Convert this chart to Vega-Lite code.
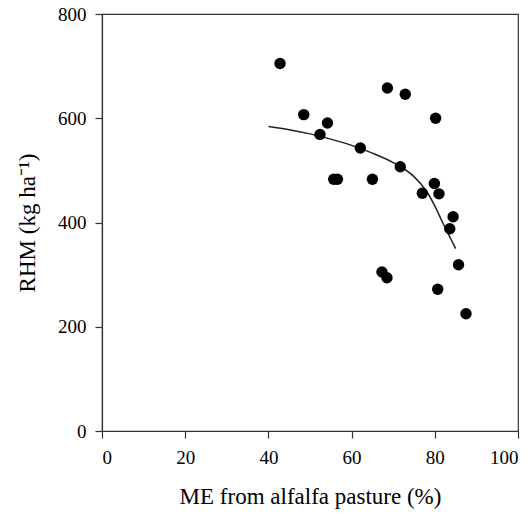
{
  "$schema": "https://vega.github.io/schema/vega-lite/v6.json",
  "autosize": "none",
  "width": 416,
  "height": 417,
  "padding": {"left": 102, "top": 14, "right": 14, "bottom": 83},
  "background": "white",
  "config": {
    "view": {"stroke": "#333", "strokeWidth": 1.2},
    "font": "Liberation Serif",
    "axis": {
      "grid": false,
      "domainColor": "#333",
      "domainWidth": 1.2,
      "tickColor": "#333",
      "tickWidth": 1.2,
      "tickSize": 7,
      "labelFont": "Liberation Serif",
      "labelFontSize": 19,
      "labelColor": "black",
      "titleFont": "Liberation Serif",
      "titleFontSize": 23,
      "titleFontWeight": "normal",
      "titleColor": "black"
    }
  },
  "datasets": {
    "pts": [
      {"me": 42.8, "rhm": 705},
      {"me": 48.5, "rhm": 607},
      {"me": 52.4, "rhm": 569},
      {"me": 54.2, "rhm": 591},
      {"me": 55.7, "rhm": 483},
      {"me": 56.6, "rhm": 483},
      {"me": 62.1, "rhm": 543},
      {"me": 65.0, "rhm": 483},
      {"me": 67.3, "rhm": 305},
      {"me": 68.5, "rhm": 294},
      {"me": 68.6, "rhm": 658},
      {"me": 72.9, "rhm": 646},
      {"me": 71.7, "rhm": 507},
      {"me": 77.0, "rhm": 456},
      {"me": 79.9, "rhm": 475},
      {"me": 81.0, "rhm": 455},
      {"me": 80.2, "rhm": 600},
      {"me": 80.7, "rhm": 272},
      {"me": 84.4, "rhm": 411},
      {"me": 83.6, "rhm": 388},
      {"me": 85.7, "rhm": 319},
      {"me": 87.5, "rhm": 225}
    ],
    "fit": [
      {"me": 40, "rhm": 584},
      {"me": 45, "rhm": 578},
      {"me": 50, "rhm": 570},
      {"me": 55, "rhm": 560},
      {"me": 60, "rhm": 548},
      {"me": 65, "rhm": 533},
      {"me": 70, "rhm": 515},
      {"me": 72, "rhm": 506},
      {"me": 75, "rhm": 488},
      {"me": 78, "rhm": 460},
      {"me": 80, "rhm": 432},
      {"me": 82, "rhm": 398},
      {"me": 84, "rhm": 366},
      {"me": 85, "rhm": 350}
    ]
  },
  "layer": [
    {
      "data": {"name": "fit"},
      "mark": {"type": "line", "color": "#222", "strokeWidth": 1.5, "interpolate": "monotone"},
      "encoding": {
        "x": {"field": "me", "type": "quantitative"},
        "y": {"field": "rhm", "type": "quantitative"}
      }
    },
    {
      "data": {"name": "pts"},
      "mark": {"type": "point", "filled": true, "shape": "circle", "color": "black", "opacity": 1, "size": 130},
      "encoding": {
        "x": {
          "field": "me", "type": "quantitative",
          "scale": {"domain": [0, 100], "nice": false},
          "axis": {"values": [0, 20, 40, 60, 80, 100], "title": "ME from alfalfa pasture (%)", "labelPadding": 10, "titlePadding": 18}
        },
        "y": {
          "field": "rhm", "type": "quantitative",
          "scale": {"domain": [0, 800], "nice": false},
          "axis": {"values": [0, 200, 400, 600, 800], "title": "RHM (kg ha⁻¹)", "labelPadding": 9, "titlePadding": 18}
        }
      }
    }
  ]
}
